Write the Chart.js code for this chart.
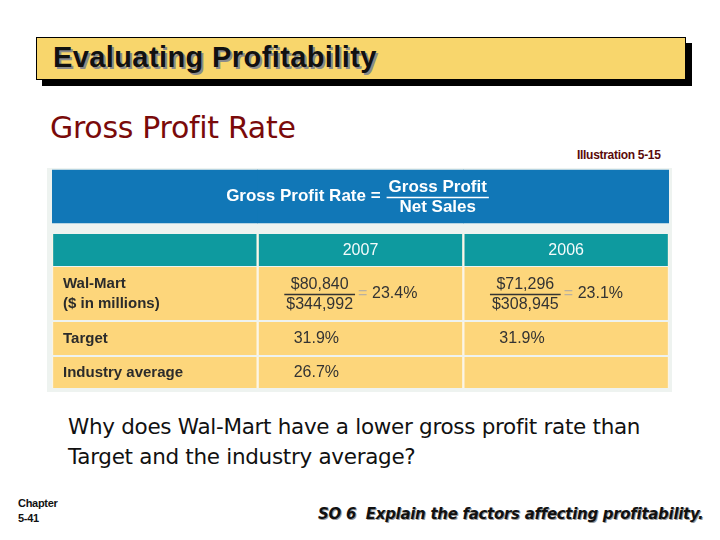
<!DOCTYPE html>
<html>
<head>
<meta charset="utf-8">
<script src="https://cdn.jsdelivr.net/npm/chart.js@4"></script>
<style>
  body { margin: 0; width: 720px; height: 540px; background: #fff; position: relative; overflow: hidden; }
  .abs { position: absolute; white-space: nowrap; }
  #titleBox { left: 36px; top: 37px; width: 648px; height: 41px; background: #f8d66c; border: 1.5px solid #000; box-shadow: 6px 6px 0 #000; }
  #titleBox span { position: absolute; left: 16px; top: 3px; font: bold 29px "Liberation Sans", Arial, sans-serif; color: #111; text-shadow: 2px 2px 0 #8a8a8a; letter-spacing: 0.4px; }
  #sub { left: 50px; top: 110px; font: 30px "DejaVu Sans", sans-serif; color: #7a0a0a; letter-spacing: -0.3px; }
  #illus { left: 577px; top: 148px; font: bold 12px "Liberation Sans", Arial, sans-serif; color: #5a0a0a; letter-spacing: -0.3px; }
  #question { left: 68px; top: 412px; font: 21.5px/30px "DejaVu Sans", sans-serif; color: #111; letter-spacing: -0.3px; }
  #chapter { left: 18px; top: 496px; font: bold 11px/15px "Liberation Sans", Arial, sans-serif; color: #111; letter-spacing: -0.3px; }
  #so { left: 318px; top: 505px; font: italic bold 15px "DejaVu Sans", sans-serif; color: #111; text-shadow: 1px 1px 0 #999; letter-spacing: -0.3px; }
  #tableWrap { left: 47px; top: 168px; width: 625px; height: 224px; background: #eef3f0; }
</style>
</head>
<body>
<div id="titleBox" class="abs"><span>Evaluating Profitability</span></div>
<div id="sub" class="abs">Gross Profit Rate</div>
<div id="illus" class="abs">Illustration 5-15</div>
<div id="tableWrap" class="abs"><canvas id="c" width="625" height="224"></canvas></div>
<div id="question" class="abs">Why does Wal-Mart have a lower gross profit rate than<br>Target and the industry average?</div>
<div id="chapter" class="abs">Chapter<br>5-41</div>
<div id="so" class="abs">SO 6&nbsp; Explain the factors affecting profitability.</div>

<script>
// table contents
const years = ['2007', '2006'];
const companies = ['Wal-Mart', 'Target', 'Industry average'];
const walmartGrossProfit = [80840, 71296];
const walmartNetSales = [344992, 308945];
const walmartRate = [23.4, 23.1];
const targetRate = [31.9, 31.9];
const industryRate = [26.7, null];

const columns = ['label', ...years];

// row bands in px from the top of the table box
const rowBands = {
  formula: [2, 55],
  years: [66, 98],
  walmart: [99, 152],
  target: [154, 187],
  industry: [189, 220]
};

const BLUE = '#1177b7';
const TEAL = '#0e9a9f';
const YELLOW = '#fdd67b';
const GAP = '#fbf5e6';
const FONT = '"Liberation Sans", Arial, sans-serif';

function band(name) {
  return columns.map(() => rowBands[name]);
}

function rowSet(name, color, gapColor) {
  return {
    label: name,
    data: band(name),
    backgroundColor: color,
    borderColor: gapColor,
    borderWidth: gapColor ? { left: 1.5, right: 1.5, top: 0, bottom: 0 } : 0,
    borderSkipped: false
  };
}

const money = n => '$' + n.toLocaleString('en-US');
const pct = n => n.toFixed(1) + '%';

function cell(chart, ds, col) {
  const el = chart.getDatasetMeta(ds).data[col];
  const top = Math.min(el.y, el.base), bottom = Math.max(el.y, el.base);
  return { left: el.x - el.width / 2, right: el.x + el.width / 2, cx: el.x, cy: (top + bottom) / 2 };
}

function fraction(ctx, num, den, cx, cy, color) {
  const w = Math.max(ctx.measureText(num).width, ctx.measureText(den).width) + 4;
  ctx.fillStyle = color;
  ctx.textAlign = 'center';
  ctx.fillText(num, cx, cy - 9);
  ctx.fillText(den, cx, cy + 11);
  ctx.strokeStyle = color;
  ctx.lineWidth = 1.5;
  ctx.beginPath();
  ctx.moveTo(cx - w / 2, cy + 1);
  ctx.lineTo(cx + w / 2, cy + 1);
  ctx.stroke();
  return w;
}

const cellText = {
  id: 'cellText',
  afterDatasetsDraw(chart) {
    const ctx = chart.ctx;
    ctx.save();
    ctx.textBaseline = 'middle';

    // formula header
    const fc = chart.chartArea;
    const fy = cell(chart, 0, 0).cy;
    ctx.font = 'bold 17px ' + FONT;
    const lhs = 'Gross Profit Rate =';
    const lw = ctx.measureText(lhs).width;
    const fw = Math.max(ctx.measureText('Gross Profit').width, ctx.measureText('Net Sales').width) + 4;
    const startX = (fc.left + fc.right) / 2 - (lw + 6 + fw) / 2 - 3;
    ctx.fillStyle = '#fff';
    ctx.textAlign = 'left';
    ctx.fillText(lhs, startX, fy);
    fraction(ctx, 'Gross Profit', 'Net Sales', startX + lw + 6 + fw / 2, fy, '#fff');

    // year headers
    ctx.font = '16px ' + FONT;
    ctx.textAlign = 'center';
    ctx.fillStyle = '#f4fbfb';
    years.forEach((y, i) => {
      const c = cell(chart, 1, i + 1);
      ctx.fillText(y, c.cx, c.cy + 1);
    });

    // row labels
    ctx.font = 'bold 15px ' + FONT;
    ctx.textAlign = 'left';
    ctx.fillStyle = '#2b2b2b';
    let c = cell(chart, 2, 0);
    ctx.fillText(companies[0], c.left + 11, c.cy - 10);
    ctx.fillText('($ in millions)', c.left + 11, c.cy + 10);
    c = cell(chart, 3, 0);
    ctx.fillText(companies[1], c.left + 11, c.cy);
    c = cell(chart, 4, 0);
    ctx.fillText(companies[2], c.left + 11, c.cy);

    // Wal-Mart fractions
    ctx.font = '16px ' + FONT;
    years.forEach((y, i) => {
      const k = cell(chart, 2, i + 1);
      const fx = k.left + 62;
      const w = fraction(ctx, money(walmartGrossProfit[i]), money(walmartNetSales[i]), fx, k.cy, '#333');
      ctx.textAlign = 'left';
      ctx.fillStyle = '#b9b0a0';
      ctx.fillText('=', fx + w / 2 + 3, k.cy);
      ctx.fillStyle = '#333';
      ctx.fillText(pct(walmartRate[i]), fx + w / 2 + 17, k.cy);
    });

    // Target and industry
    ctx.textAlign = 'left';
    ctx.fillStyle = '#333';
    [[3, targetRate], [4, industryRate]].forEach(([ds, vals]) => {
      vals.forEach((v, i) => {
        if (v == null) return;
        const k = cell(chart, ds, i + 1);
        ctx.fillText(pct(v), k.left + 36, k.cy);
      });
    });
    ctx.restore();
  }
};

new Chart(document.getElementById('c'), {
  type: 'bar',
  data: {
    labels: columns,
    datasets: [
      rowSet('formula', BLUE, null),
      rowSet('years', TEAL, GAP),
      rowSet('walmart', YELLOW, GAP),
      rowSet('target', YELLOW, GAP),
      rowSet('industry', YELLOW, GAP)
    ]
  },
  options: {
    responsive: false,
    animation: false,
    events: [],
    grouped: false,
    barPercentage: 1,
    categoryPercentage: 1,
    layout: { padding: { left: 5, right: 3, top: 0, bottom: 0 } },
    plugins: { legend: { display: false }, tooltip: { enabled: false } },
    scales: {
      x: { display: false },
      y: { display: false, min: 0, max: 224, reverse: true }
    }
  },
  plugins: [cellText]
});
</script>
</body>
</html>
